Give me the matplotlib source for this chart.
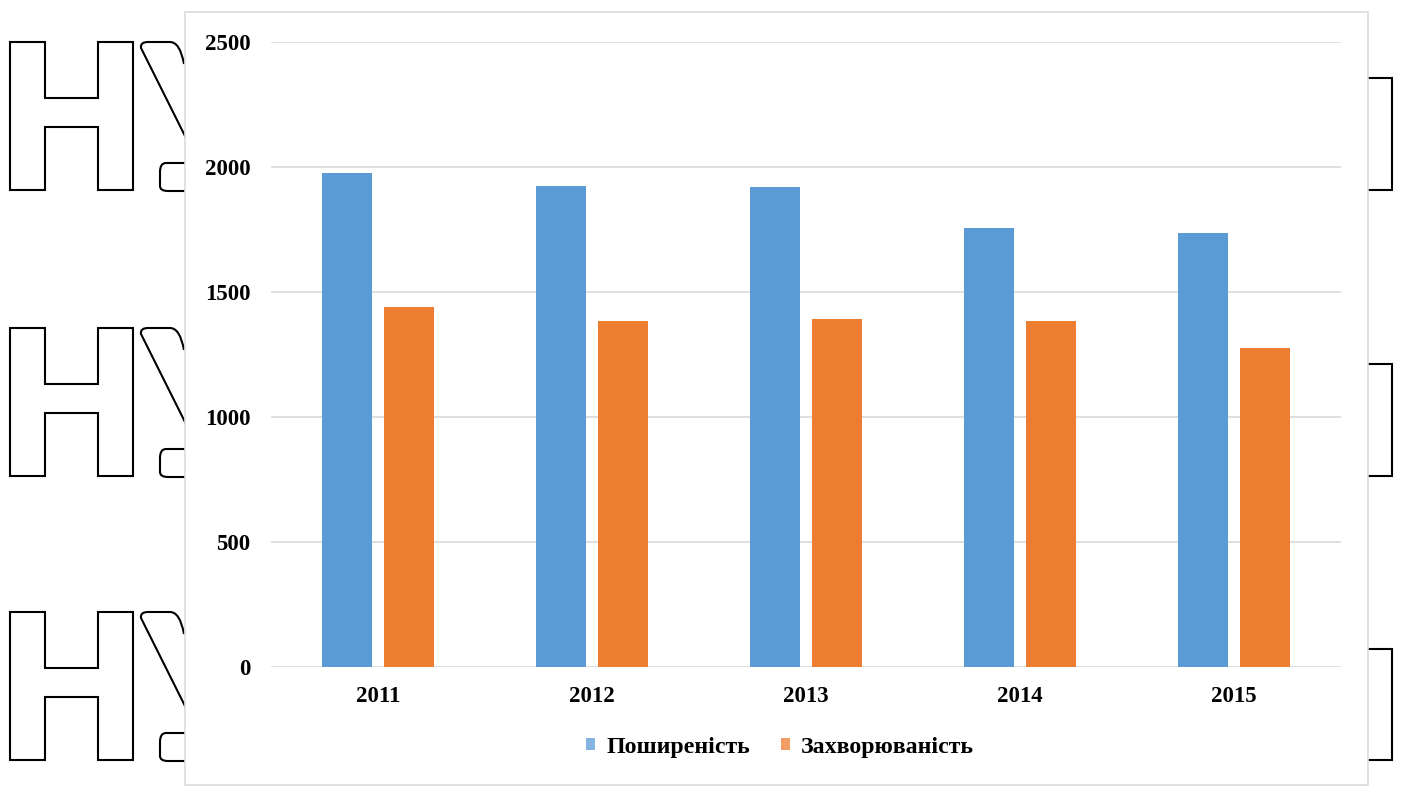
import numpy as np
import matplotlib.pyplot as plt
from matplotlib.patches import Rectangle, PathPatch
from matplotlib.path import Path
from matplotlib.textpath import TextPath
from matplotlib.font_manager import FontProperties
from matplotlib.transforms import Affine2D

years = ["2011", "2012", "2013", "2014", "2015"]
prevalence = [1975, 1923, 1921, 1757, 1737]   # Поширеність
incidence = [1441, 1385, 1393, 1386, 1275]    # Захворюваність
y_ticks = [0, 500, 1000, 1500, 2000, 2500]

blue = "#5B9BD5"
orange = "#ED7D31"
serif_bold = dict(family="Liberation Serif", weight="bold")

W, H = 1406, 799
fig = plt.figure(figsize=(W / 100, H / 100), dpi=100)
fig.patch.set_facecolor("white")


def outline_glyph(ch, family, top, bottom, left=None, right=None, width=None):
    """Hollow letter outline placed in pixel coordinates (y from the top)."""
    tp = TextPath((0, 0), ch, size=100, prop=FontProperties(family=family, weight="bold"))
    ext = tp.get_extents()
    sy = (bottom - top) / ext.height
    sx = width / ext.width if width else sy
    if left is not None:
        tx = left - ext.x0 * sx
    else:
        tx = right - ext.x1 * sx
    ty = (H - bottom) - ext.y0 * sy
    patch = PathPatch(tp, facecolor="white", edgecolor="black", linewidth=1.5,
                      zorder=-3)
    patch.set_transform(Affine2D().scale(sx, sy).translate(tx, ty))
    fig.add_artist(patch)


# start of the second watermark letter (mostly hidden under the panel)
M, L, C = Path.MOVETO, Path.LINETO, Path.CURVE3
n_verts = [(186, 138), (141, 48), (140, 42), (148, 42), (170, 42),
           (180, 42), (184, 64),
           (186, 163), (166, 163), (160, 163), (160, 172), (160, 186),
           (160, 191), (168, 191), (186, 191)]
n_codes = [M, L, C, C, L, C, C,
           M, L, C, C, L, C, C, L]


def n_fragment(dy):
    verts = [(vx, H - (vy + dy)) for vx, vy in n_verts]
    patch = PathPatch(Path(verts, n_codes), facecolor="none", edgecolor="black",
                      linewidth=1.5, zorder=-3)
    patch.set_transform(Affine2D())
    fig.add_artist(patch)


# watermark letters behind the chart panel
for top, bottom in [(42, 190), (328, 476), (612, 760)]:
    outline_glyph("H", "DejaVu Sans", top, bottom, left=10, width=123)
    n_fragment(top - 42)
for top, bottom in [(78, 190), (364, 476), (649, 760)]:
    outline_glyph("H", "DejaVu Sans", top, bottom, right=1392)

# white chart panel
panel = Rectangle((185 / W, 1 - 785 / H), (1368 - 185) / W, (785 - 12) / H,
                  transform=fig.transFigure, facecolor="white",
                  edgecolor="#dcdcdc", linewidth=1.2, zorder=-1)
fig.patches.append(panel)

ax = fig.add_axes([271 / W, 1 - 667 / H, (1341 - 271) / W, (667 - 42) / H])
ax.set_facecolor("none")

x = np.arange(len(years))
ax.bar(x - 0.145, prevalence, width=0.23, color=blue, label="Поширеність", zorder=2)
ax.bar(x + 0.145, incidence, width=0.23, color=orange, label="Захворюваність", zorder=2)

ax.set_xlim(-0.5, len(years) - 0.5)
ax.set_ylim(0, 2500)
ax.set_yticks(y_ticks)
ax.set_yticklabels([str(v) for v in y_ticks], fontdict=serif_bold, fontsize=16.5)
ax.set_xticks(x)
ax.set_xticklabels(years, fontdict=serif_bold, fontsize=16.5)
ax.tick_params(axis="both", length=0)
ax.tick_params(axis="y", pad=15)
ax.tick_params(axis="x", pad=14)
ax.grid(axis="y", color="#d9d9d9", linewidth=1.2, zorder=0)
ax.set_axisbelow(True)
for s in ax.spines.values():
    s.set_visible(False)

leg = ax.legend(loc="center", bbox_to_anchor=(0.4757, -0.128), ncol=2, frameon=False,
                prop=dict(serif_bold, size=17.2), handlelength=0.4, handleheight=0.4,
                handletextpad=0.45, columnspacing=1.3)
for h in leg.legend_handles:
    h.set_alpha(0.75)

fig.savefig("out.png", dpi=100, facecolor="white")
